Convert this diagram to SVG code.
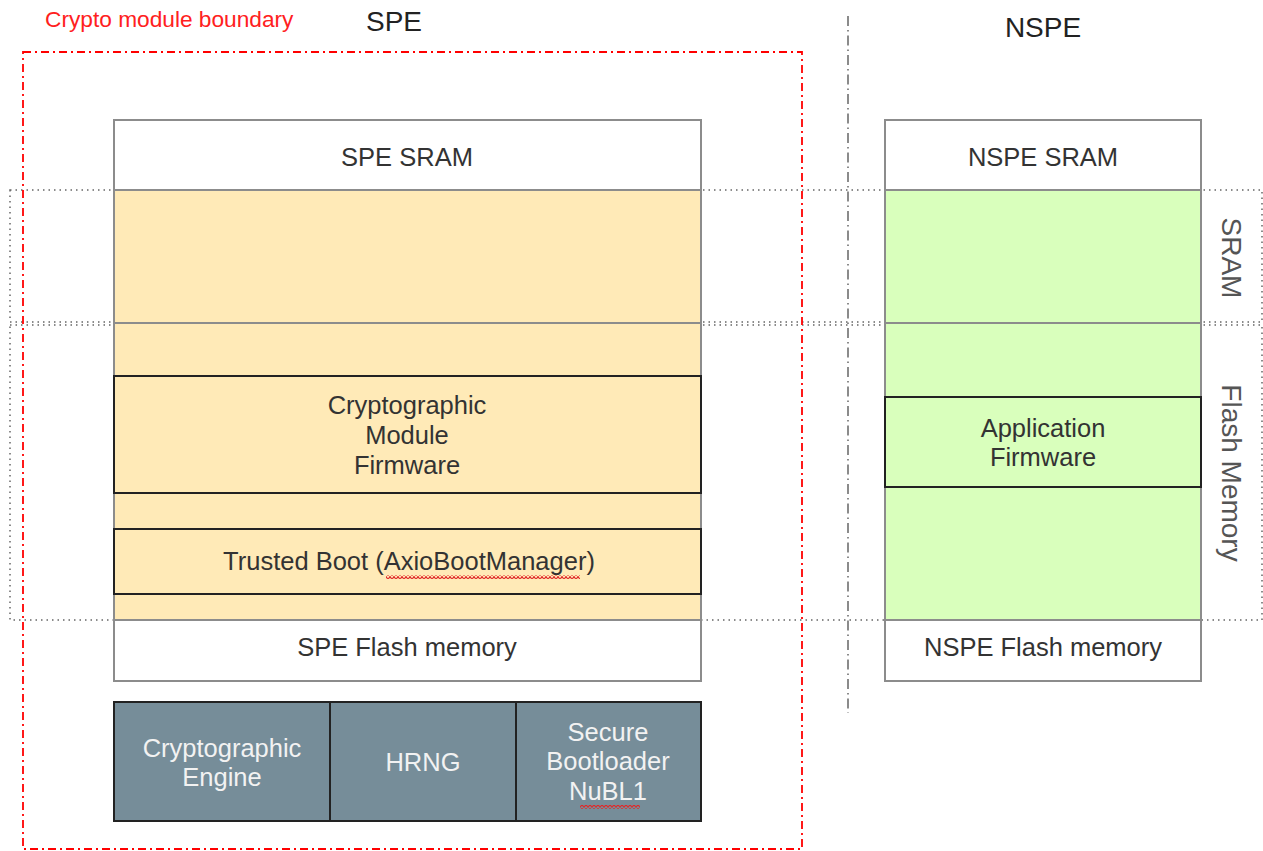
<svg xmlns="http://www.w3.org/2000/svg" width="1263" height="851" viewBox="0 0 1263 851">
  <defs>
    <style>
      text { font-family: "Liberation Sans", Arial, sans-serif; }
      .lbl { font-size: 25.5px; fill: #333; text-anchor: middle; }
      .eng { font-size: 25.5px; fill: #f2f2f2; text-anchor: middle; }
      .title { font-size: 28px; fill: #222; text-anchor: middle; }
      .side { font-size: 28px; fill: #555; text-anchor: middle; }
      .plain { fill: #ffffff; stroke: #8c8c8c; stroke-width: 2; }
      .spe { fill: #ffeab7; stroke: #8c8c8c; stroke-width: 2; }
      .nspe { fill: #d9ffbc; stroke: #8c8c8c; stroke-width: 2; }
      .fw { fill: none; stroke: #222; stroke-width: 2; }
      .hw { fill: #768d99; stroke: #222; stroke-width: 2; }
      .region { fill: none; stroke: #666; stroke-width: 1.5; stroke-dasharray: 1.5 4; }
    </style>
    <!-- wavy spell-check underline -->
    <pattern id="squiggle" width="4" height="4" patternUnits="userSpaceOnUse">
      <path d="M0 3.5 L2 0.5 L4 3.5" fill="none" stroke="#e02828" stroke-width="1.2"/>
    </pattern>
  </defs>

  <rect width="1263" height="851" fill="#ffffff"/>

  <!-- memory region outlines (dotted) -->
  <g id="regions">
    <rect class="region" x="10" y="190" width="1252" height="132"/>
    <rect class="region" x="10" y="325" width="1252" height="295"/>
    <text class="side" transform="translate(1222,258) rotate(90)">SRAM</text>
    <text class="side" transform="translate(1222,473) rotate(90)">Flash Memory</text>
  </g>

  <!-- SPE / NSPE divider -->
  <line x1="848" y1="16" x2="848" y2="713" stroke="#666" stroke-width="1.5" stroke-dasharray="10 4 1.5 4"/>
  <text class="title" x="394" y="31">SPE</text>
  <text class="title" x="1043" y="37">NSPE</text>

  <!-- crypto module boundary -->
  <g id="boundary">
    <rect x="23" y="52" width="779" height="797" fill="none" stroke="#ff0000" stroke-width="1.8" stroke-dasharray="8 4 2 4"/>
    <text x="45" y="27" font-size="22.7" fill="#ff2020">Crypto module boundary</text>
  </g>

  <!-- SPE memory column -->
  <g id="spe-sram">
    <rect class="plain" x="114" y="120" width="587" height="70"/>
    <text class="lbl" x="407" y="166">SPE SRAM</text>
  </g>
  <g id="spe-secure-area">
    <rect class="spe" x="114" y="190" width="587" height="133"/>
    <rect class="spe" x="114" y="323" width="587" height="297"/>
  </g>
  <g id="crypto-fw">
    <rect class="fw" x="114" y="376" width="587" height="117"/>
    <text class="lbl" x="407" y="414">Cryptographic</text>
    <text class="lbl" x="407" y="444">Module</text>
    <text class="lbl" x="407" y="474">Firmware</text>
  </g>
  <g id="trusted-boot">
    <rect class="fw" x="114" y="529" width="587" height="65"/>
    <text class="lbl" x="409" y="570">Trusted Boot (AxioBootManager)</text>
    <rect x="386" y="575" width="194" height="4" fill="url(#squiggle)"/>
  </g>
  <g id="spe-flash">
    <rect class="plain" x="114" y="620" width="587" height="61"/>
    <text class="lbl" x="407" y="656">SPE Flash memory</text>
  </g>

  <!-- hardware blocks -->
  <g id="crypto-engine">
    <rect class="hw" x="114" y="702" width="216" height="119"/>
    <text class="eng" x="222" y="757">Cryptographic</text>
    <text class="eng" x="222" y="786">Engine</text>
  </g>
  <g id="hrng">
    <rect class="hw" x="330" y="702" width="186" height="119"/>
    <text class="eng" x="423" y="771">HRNG</text>
  </g>
  <g id="nubl1">
    <rect class="hw" x="516" y="702" width="185" height="119"/>
    <text class="eng" x="608" y="741">Secure</text>
    <text class="eng" x="608" y="770">Bootloader</text>
    <text class="eng" x="608" y="800">NuBL1</text>
    <rect x="580" y="805" width="60" height="4" fill="url(#squiggle)"/>
  </g>

  <!-- NSPE memory column -->
  <g id="nspe-sram">
    <rect class="plain" x="885" y="120" width="316" height="70"/>
    <text class="lbl" x="1043" y="166">NSPE SRAM</text>
  </g>
  <g id="nspe-area">
    <rect class="nspe" x="885" y="190" width="316" height="133"/>
    <rect class="nspe" x="885" y="323" width="316" height="297"/>
  </g>
  <g id="app-fw">
    <rect class="fw" x="885" y="397" width="316" height="90"/>
    <text class="lbl" x="1043" y="437">Application</text>
    <text class="lbl" x="1043" y="466">Firmware</text>
  </g>
  <g id="nspe-flash">
    <rect class="plain" x="885" y="620" width="316" height="61"/>
    <text class="lbl" x="1043" y="656">NSPE Flash memory</text>
  </g>

  <!-- no connectors in this layout -->
  <g id="connectors"/>
</svg>
